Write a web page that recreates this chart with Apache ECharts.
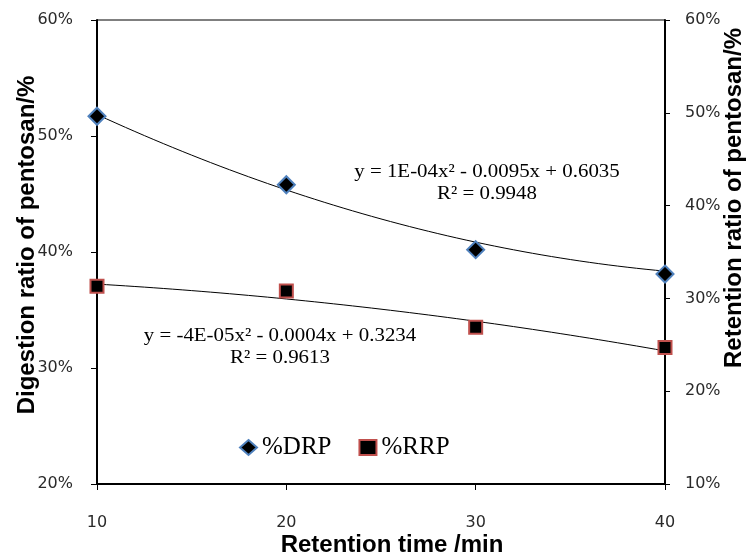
<!DOCTYPE html>
<html>
<head>
<meta charset="utf-8">
<script src="https://cdn.jsdelivr.net/npm/echarts@6/dist/echarts.min.js"></script>
<style>
  html, body { margin: 0; padding: 0; background: #fff; }
  #chart { width: 747px; height: 555px; }
</style>
</head>
<body>
<div id="chart"></div>
<script>
// Retention time (min)
const retentionTime = [10, 20, 30, 40];
// Digestion ratio of pentosan, % (left axis)
const drpValues = [51.7, 45.8, 40.2, 38.1];
// Retention ratio of pentosan, % (right axis)
const rrpValues = [31.3, 30.8, 26.9, 24.7];
// Polynomial trendline coefficients [a, b, c] for y = a x^2 + b x + c (fraction)
const drpFit = [1e-4, -0.0095, 0.6035];
const rrpFit = [-4e-5, -0.0004, 0.3234];
const drpEquation = ['y = 1E-04x\u00b2 - 0.0095x + 0.6035', 'R\u00b2 = 0.9948'];
const rrpEquation = ['y = -4E-05x\u00b2 - 0.0004x + 0.3234', 'R\u00b2 = 0.9613'];
// Axis ticks
const xTicks = [10, 20, 30, 40];
const leftTicks = [20, 30, 40, 50, 60];
const rightTicks = [10, 20, 30, 40, 50, 60];

function trend(coef) {
  const pts = [];
  const x0 = xTicks[0], x1 = xTicks[xTicks.length - 1];
  for (let x = x0; x <= x1 + 1e-9; x += 0.5) {
    pts.push([x, (coef[0] * x * x + coef[1] * x + coef[2]) * 100]);
  }
  return pts;
}

const chart = echarts.init(document.getElementById('chart'), null, { renderer: 'canvas' });

const tickFont = { fontFamily: 'DejaVu Sans', fontSize: 16, color: '#2a2a2a' };
const serif = 'Liberation Serif';

function eqText(lines, cx, cy) {
  return lines.map((t, i) => ({
    type: 'text',
    x: cx, y: cy + i * 22,
    scaleX: 1.1,
    style: {
      text: t,
      font: '19px "' + serif + '"',
      fill: '#000',
      align: 'center', textAlign: 'center',
      verticalAlign: 'middle', textVerticalAlign: 'middle'
    }
  }));
}

const option = {
  animation: false,
  backgroundColor: '#fff',
  grid: {
    left: 97, right: 82, top: 20, bottom: 71,
    show: true, borderColor: '#000', borderWidth: 1
  },
  xAxis: {
    type: 'value',
    min: xTicks[0], max: xTicks[xTicks.length - 1], interval: 10,
    splitLine: { show: false },
    axisLine: { lineStyle: { color: '#000', width: 2 } },
    axisTick: { length: 6, lineStyle: { color: '#000', width: 1 } },
    axisLabel: Object.assign({ margin: 31 }, tickFont)
  },
  yAxis: [
    {
      type: 'value', position: 'left',
      min: leftTicks[0], max: leftTicks[leftTicks.length - 1], interval: 10,
      splitLine: { show: false },
      axisLine: { show: true, lineStyle: { color: '#000', width: 2 } },
      axisTick: { show: true, length: 6, lineStyle: { color: '#000', width: 1 } },
      axisLabel: Object.assign({ margin: 24, formatter: v => v + '%' }, tickFont)
    },
    {
      type: 'value', position: 'right',
      min: rightTicks[0], max: rightTicks[rightTicks.length - 1], interval: 10,
      splitLine: { show: false },
      axisLine: { show: true, lineStyle: { color: '#000', width: 2 } },
      axisTick: { show: true, length: 5, lineStyle: { color: '#000', width: 1 } },
      axisLabel: Object.assign({ margin: 20, formatter: v => v + '%' }, tickFont)
    }
  ],
  legend: {
    left: 234, top: 430,
    itemGap: 27, itemWidth: 17, itemHeight: 15,
    textStyle: { fontFamily: serif, fontSize: 25, color: '#000' },
    data: [{ name: '%DRP', icon: 'diamond' }, { name: '%RRP', icon: 'rect' }]
  },
  series: [
    {
      name: 'DRP trend', type: 'line', yAxisIndex: 0,
      data: trend(drpFit), showSymbol: false, symbol: 'none',
      lineStyle: { color: '#000', width: 1 }, silent: true, z: 1
    },
    {
      name: 'RRP trend', type: 'line', yAxisIndex: 1,
      data: trend(rrpFit), showSymbol: false, symbol: 'none',
      lineStyle: { color: '#000', width: 1 }, silent: true, z: 1
    },
    {
      name: '%DRP', type: 'scatter', yAxisIndex: 0,
      symbol: 'diamond', symbolSize: [17, 17],
      itemStyle: { color: '#000', borderColor: '#4f81bd', borderWidth: 2, opacity: 1 },
      data: retentionTime.map((x, i) => [x, drpValues[i]]), z: 3
    },
    {
      name: '%RRP', type: 'scatter', yAxisIndex: 1,
      symbol: 'rect', symbolSize: 13,
      itemStyle: { color: '#000', borderColor: '#c0504d', borderWidth: 2, opacity: 1 },
      data: retentionTime.map((x, i) => [x, rrpValues[i]]), z: 3
    }
  ],
  graphic: [
    {
      type: 'text', x: 27, y: 245, rotation: Math.PI / 2,
      style: {
        text: 'Digestion ratio of pentosan/%',
        font: 'bold 24px "Liberation Sans"', fill: '#000',
        align: 'center', textAlign: 'center',
        verticalAlign: 'middle', textVerticalAlign: 'middle'
      }
    },
    {
      type: 'text', x: 734, y: 198, rotation: Math.PI / 2,
      style: {
        text: 'Retention ratio of pentosan/%',
        font: 'bold 24px "Liberation Sans"', fill: '#000',
        align: 'center', textAlign: 'center',
        verticalAlign: 'middle', textVerticalAlign: 'middle'
      }
    },
    {
      type: 'text', x: 392, y: 545,
      style: {
        text: 'Retention time /min',
        font: 'bold 24px "Liberation Sans"', fill: '#000',
        align: 'center', textAlign: 'center',
        verticalAlign: 'middle', textVerticalAlign: 'middle'
      }
    }
  ].concat(eqText(drpEquation, 487, 172), eqText(rrpEquation, 280, 336))
};

chart.setOption(option);
</script>
</body>
</html>
